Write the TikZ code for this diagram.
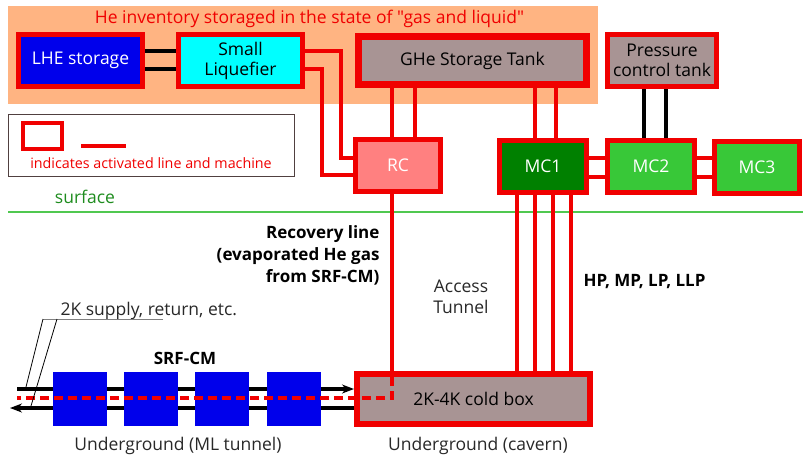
\documentclass[tikz,border=0pt]{standalone}
\usepackage{fontspec}
\setmainfont{Open Sans}[Ligatures=TeXOff]
\usetikzlibrary{arrows.meta,calc}
\definecolor{hotred}{RGB}{240,0,0}
\definecolor{mauve}{RGB}{168,148,148}
\definecolor{rcpink}{RGB}{255,128,128}
\definecolor{mcdark}{RGB}{0,128,0}
\definecolor{mclight}{RGB}{56,200,56}
\definecolor{lheblue}{RGB}{0,0,235}
\definecolor{liqcyan}{RGB}{0,255,255}
\definecolor{orangebg}{RGB}{255,180,130}
\definecolor{groundgreen}{RGB}{80,200,80}
\definecolor{surfgreen}{RGB}{30,140,30}
\definecolor{legendgray}{RGB}{80,64,64}
\definecolor{labelgray}{RGB}{40,40,40}

\begin{document}
\begin{tikzpicture}[x=1pt, y=-1pt,
    machine/.style={draw=hotred, line width=5pt, inner sep=0pt, align=center,
        font=\fontsize{17.5}{20}\selectfont},
    hot/.style={draw=hotred, line width=4pt},
    pipe/.style={draw=black, line width=4pt},
    recdash/.style={draw=hotred, line width=3.5pt, dash pattern=on 9pt off 5pt},
    cmbox/.style={fill=lheblue, minimum size=54pt, inner sep=0pt},
    leader/.style={draw=black, line width=0.8pt},
    note/.style={text=labelgray, font=\fontsize{17.5}{21}\selectfont, align=center},
    boldnote/.style={font=\bfseries\fontsize{17}{22}\selectfont},
    >={Stealth[length=12pt, width=9pt]}]
    \useasboundingbox (0,0) rectangle (803,456);

    % Storage on the surface
    \fill[orangebg] (8,6) rectangle (598,104);
    \node[text=hotred, font=\fontsize{17.5}{20}\selectfont] (title) at (309.5,19)
        {He inventory storaged in the state of "gas and liquid"};

    \node[machine, fill=lheblue, text=white, minimum width=124pt, minimum height=52pt]
        (lhe) at (80.5,60.5) {LHE storage};
    \node[machine, fill=liqcyan, minimum width=124pt, minimum height=52pt]
        (liq) at (240.5,60.5) {Small\\Liquefier};
    \node[machine, line width=7pt, fill=mauve, minimum width=228pt, minimum height=48pt]
        (gst) at (472.5,60.5) {GHe Storage Tank};
    \node[machine, fill=mauve, minimum width=109pt, minimum height=52pt]
        (pct) at (662,60.5) {Pressure\\control tank};

    % Compressors and recovery
    \node[machine, fill=rcpink, text=white, minimum width=85pt, minimum height=52pt]
        (rc) at (398,165.5) {RC};
    \node[machine, fill=mcdark, text=white, minimum width=87pt, minimum height=52pt]
        (mc1) at (543,166.5) {MC1};
    \node[machine, fill=mclight, text=white, minimum width=87pt, minimum height=52pt]
        (mc2) at (651,166.5) {MC2};
    \node[machine, fill=mclight, text=white, minimum width=85pt, minimum height=52pt]
        (mc3) at (757,167.5) {MC3};

    \draw[pipe] ([yshift=9.5pt]lhe.east) -- ([yshift=9.5pt]liq.west);
    \draw[pipe] ([yshift=-8.5pt]lhe.east) -- ([yshift=-8.5pt]liq.west);
    \draw[hot] ([yshift=9.5pt]liq.east) -- ++(35.5,0) |- ([yshift=7.5pt]rc.west);
    \draw[hot] ([yshift=-8.5pt]liq.east) -- ++(16.5,0) |- ([yshift=-9.5pt]rc.west);
    \foreach \dx in {-6,17}
        \draw[hot] ($(rc.north)+(\dx,0)$) -- ($(rc.north |- gst.south)+(\dx,0)$);
    \foreach \dx in {-8,13}
        \draw[hot] ($(mc1.north)+(\dx,0)$) -- ($(mc1.north |- gst.south)+(\dx,0)$);
    \foreach \dx in {-7,15}
        \draw[pipe] ($(mc2.north)+(\dx,0)$) -- ($(mc2.north |- pct.south)+(\dx,0)$);
    \foreach \dy in {8.5,-10.5} {
        \draw[hot] ([yshift=\dy pt]mc1.east) -- ([yshift=\dy pt]mc1.east -| mc2.west);
        \draw[hot] ([yshift=\dy pt]mc2.east) -- ([yshift=\dy pt]mc2.east -| mc3.west);
    }

    % Legend
    \node[draw=legendgray, line width=1pt, minimum width=286pt, minimum height=62pt,
        inner sep=0pt] (legend) at (151.5,145.5) {};
    \node[draw=hotred, line width=4pt, minimum width=39pt, minimum height=26pt,
        inner sep=0pt] (legbox) at (42.5,136) {};
    \draw[hot] (81,146) -- (126,146);
    \node[text=hotred, font=\fontsize{14.3}{16}\selectfont] (legtxt) at (151,163)
        {indicates activated line and machine};

    % Surface level
    \node[text=surfgreen, font=\fontsize{17.5}{20}\selectfont] (surf) at (85,197) {surface};
    \draw[groundgreen, line width=2pt] (8,212) -- (803,212);

    % Underground
    \node[machine, line width=6pt, fill=mauve, minimum width=233pt, minimum height=50pt]
        (cold) at (473.5,399) {2K-4K cold box};

    \node[boldnote, align=right, anchor=east] (recov) at (383,255)
        {Recovery line\\(evaporated He gas\\from SRF-CM)};
    \node[note] (access) at (461,297) {Access\\Tunnel};
    \node[boldnote, anchor=west] (hpmp) at (580,282) {HP, MP, LP, LLP};

    \draw[hot] ($(rc.south)+(-6,0)$) -- ($(rc.south |- cold.north)+(-6,0)$);
    \foreach \dx in {-26,-8,10,28}
        \draw[hot] ($(mc1.south)+(\dx,0)$) -- ($(mc1.south |- cold.north)+(\dx,0)$);

    % 2K lines along the ML tunnel
    \coordinate (supW) at (17,389);
    \coordinate (retW) at (10,408);
    \coordinate (recW) at (17,398);
    \draw[pipe, ->] (supW) -- (supW -| cold.west);
    \draw[pipe, ->] (retW -| cold.west) -- (retW);
    \foreach \i/\cx in {1/80,2/151,3/222,4/294}
        \node[cmbox] (cm\i) at (\cx,399) {};
    \draw[recdash] ($(rc.south |- cold.north)+(-6,6)$) |- (recW);
    \node[boldnote] (srf) at (185,358) {SRF-CM};

    \node[note, anchor=base west] (supply) at (57,315) {2K supply, return, etc.};
    \coordinate (ldA) at (43,319);
    \coordinate (ldB) at (57,319);
    \coordinate (ldC) at (163,319);
    \coordinate (tipA) at (26,387);
    \coordinate (tipB) at (31,406);
    \draw[gray, line width=1pt] (ldC) -- (ldA);
    \draw[leader] (ldA) -- (tipA);
    \draw[leader] (ldB) -- (tipB);

    \node[note] (mlt) at (178,446) {Underground (ML tunnel)};
    \node[note] (cav) at (478,446) {Underground (cavern)};
\end{tikzpicture}
\end{document}
